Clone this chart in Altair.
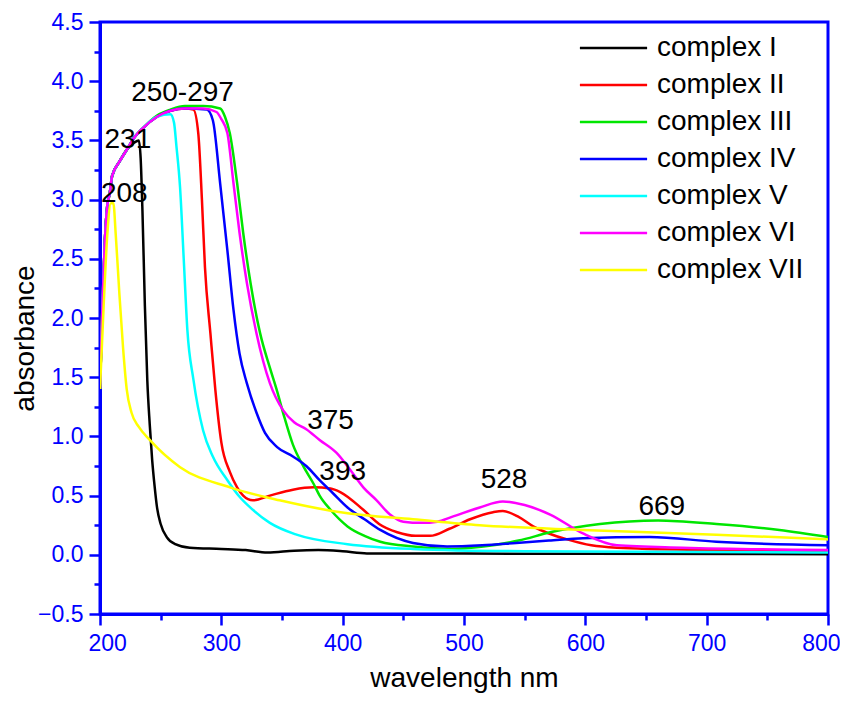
import altair as alt
import pandas as pd

names = ["complex I", "complex II", "complex III", "complex IV", "complex V", "complex VI", "complex VII"]
colors = ["#000000", "#ff0000", "#00e600", "#0000ff", "#00ffff", "#ff00ff", "#ffff00"]

c1_x = [200, 202, 204, 206, 208, 210, 216, 222, 228, 232, 233.5, 235, 237, 239, 241, 243, 245, 247, 250, 255, 262, 274, 300, 320, 338, 360, 380, 400, 420, 500, 600, 800]
c1_y = [1.4, 2.1, 2.65, 2.95, 3.05, 3.2, 3.32, 3.42, 3.48, 3.5, 3.35, 2.9, 2.1, 1.47, 1.1, 0.8, 0.58, 0.4, 0.26, 0.15, 0.09, 0.06, 0.05, 0.04, 0.02, 0.035, 0.04, 0.03, 0.012, 0.01, 0.008, 0.005]

c2_x = [200, 202, 204, 206, 208, 210, 216, 222, 228, 235, 247, 258, 270, 277, 281, 284, 286.5, 291, 295, 300, 307, 313, 318, 326, 340, 359, 376, 390, 398, 417, 430, 445, 460, 472, 488, 505, 524, 532, 545, 557, 570, 585, 605, 626, 700, 800]
c2_y = [1.4, 2.1, 2.65, 2.95, 3.05, 3.2, 3.32, 3.42, 3.52, 3.6, 3.7, 3.75, 3.77, 3.76, 3.56, 3.0, 2.43, 1.87, 1.4, 0.95, 0.7, 0.57, 0.5, 0.46, 0.5, 0.55, 0.57, 0.56, 0.53, 0.38, 0.26, 0.19, 0.16, 0.16, 0.22, 0.3, 0.36, 0.37, 0.32, 0.24, 0.18, 0.13, 0.08, 0.06, 0.04, 0.03]

c3_x = [200, 202, 204, 206, 208, 210, 216, 222, 228, 235, 247, 258, 270, 285, 299, 303, 307, 313, 318, 324, 332, 340, 346, 352, 359, 368, 376, 381, 390, 404, 418, 431, 458, 490, 516, 545, 571, 612, 660, 708, 760, 800]
c3_y = [1.4, 2.1, 2.65, 2.95, 3.05, 3.2, 3.32, 3.42, 3.52, 3.6, 3.71, 3.76, 3.79, 3.79, 3.77, 3.7, 3.56, 3.14, 2.72, 2.3, 1.87, 1.58, 1.38, 1.16, 0.93, 0.74, 0.6, 0.5, 0.38, 0.24, 0.16, 0.11, 0.07, 0.05, 0.07, 0.12, 0.19, 0.26, 0.29, 0.26, 0.21, 0.15]

c4_x = [200, 202, 204, 206, 208, 210, 216, 222, 228, 235, 247, 258, 270, 288, 293, 299, 305, 310, 315, 321, 329, 336, 346, 359, 370, 381, 392, 404, 418, 431, 458, 486, 515, 543, 570, 598, 653, 708, 800]
c4_y = [1.4, 2.1, 2.65, 2.95, 3.05, 3.2, 3.32, 3.42, 3.52, 3.6, 3.7, 3.75, 3.77, 3.76, 3.67, 3.14, 2.57, 2.07, 1.7, 1.45, 1.2, 1.03, 0.91, 0.83, 0.75, 0.63, 0.52, 0.4, 0.3, 0.21, 0.1, 0.07, 0.08, 0.1, 0.12, 0.14, 0.15, 0.11, 0.08]

c5_x = [200, 202, 204, 206, 208, 210, 216, 222, 228, 235, 247, 258, 261, 263, 266, 269, 272, 277, 285, 293, 305, 315, 326, 340, 362, 404, 458, 550, 800]
c5_y = [1.4, 2.1, 2.65, 2.95, 3.05, 3.2, 3.32, 3.42, 3.52, 3.6, 3.7, 3.72, 3.65, 3.45, 3.1, 2.5, 1.9, 1.48, 1.05, 0.83, 0.63, 0.49, 0.38, 0.27, 0.17, 0.09, 0.05, 0.03, 0.02]

c6_x = [200, 202, 204, 206, 208, 210, 216, 222, 228, 235, 247, 258, 270, 285, 296, 300, 305, 310, 315, 321, 329, 340, 351, 360, 370, 381, 395, 406, 417, 428, 439, 450, 465, 478, 490, 513, 532, 550, 571, 598, 626, 680, 800]
c6_y = [1.4, 2.1, 2.65, 2.95, 3.05, 3.2, 3.32, 3.42, 3.52, 3.6, 3.7, 3.75, 3.77, 3.77, 3.74, 3.68, 3.56, 3.14, 2.72, 2.3, 1.87, 1.45, 1.22, 1.12, 1.06, 0.97, 0.86, 0.72, 0.57, 0.46, 0.34, 0.28, 0.27, 0.28, 0.32, 0.4, 0.45, 0.42, 0.34, 0.18, 0.08, 0.06, 0.04]

c7_x = [200, 203, 206, 209, 211, 213, 216, 219, 222, 226, 232, 241, 266, 307, 348, 404, 458, 513, 598, 708, 800]
c7_y = [1.4, 2.1, 2.7, 2.97, 2.97, 2.7, 2.2, 1.75, 1.4, 1.2, 1.08, 0.97, 0.74, 0.57, 0.46, 0.35, 0.3, 0.25, 0.21, 0.17, 0.13]

ann_text = ["250-297", "231", "208", "375", "393", "528", "669"]
ann_x = [268, 223, 220, 390, 400, 533, 663]
ann_y = [3.9, 3.5, 3.05, 1.13, 0.7, 0.63, 0.4]

x_major = [200, 300, 400, 500, 600, 700, 800]
x_minor = [250, 350, 450, 550, 650, 750]
y_major = [-0.5, 0.0, 0.5, 1.0, 1.5, 2.0, 2.5, 3.0, 3.5, 4.0, 4.5]
y_minor = [-0.25, 0.25, 0.75, 1.25, 1.75, 2.25, 2.75, 3.25, 3.75, 4.25]

xs_all = [c1_x, c2_x, c3_x, c4_x, c5_x, c6_x, c7_x]
ys_all = [c1_y, c2_y, c3_y, c4_y, c5_y, c6_y, c7_y]
rows = []
for i, (nm, xs, ys) in enumerate(zip(names, xs_all, ys_all)):
    for x, y in zip(xs, ys):
        rows.append({"complex": nm, "wavelength": x, "absorbance": y, "k": i})
df = pd.DataFrame(rows)
ann = pd.DataFrame({"t": ann_text, "x": ann_x, "y": ann_y})

FONT = "Liberation Sans"
BLUE = "#0000ff"

xscale = alt.Scale(domain=[200, 800], nice=False, zero=False)
yscale = alt.Scale(domain=[-0.5, 4.5], nice=False, zero=False)

xaxis = alt.Axis(
    values=x_major, title="wavelength nm", grid=False, orient="bottom",
    labelOverlap=False, labelFlush=True, labelFlushOffset=12, format="d",
    tickSize=11, labelPadding=7, titlePadding=9,
)
yaxis = alt.Axis(
    values=y_major, title="absorbance", grid=False, orient="left",
    labelOverlap=False, labelFlush=False, format=".1f",
    tickSize=11, labelPadding=6, titleX=-61, titleY=316,
)

lines = alt.Chart(df).mark_line(strokeWidth=2.5, interpolate="monotone", clip=True).encode(
    x=alt.X("wavelength:Q", scale=xscale, axis=xaxis),
    y=alt.Y("absorbance:Q", scale=yscale, axis=yaxis),
    color=alt.Color(
        "complex:N",
        scale=alt.Scale(domain=names, range=colors),
        legend=alt.Legend(
            title=None, orient="none", legendX=491, legendY=3.5,
            symbolType="M-1.6,0L1.6,0", symbolSize=1764, symbolStrokeWidth=2.5,
            symbolFillColor="transparent",
            labelFontSize=28, labelFont=FONT, labelColor="#000000",
            rowPadding=0, padding=0, labelOffset=21,
        ),
    ),
    detail="k:N",
)

texts = alt.Chart(ann).mark_text(font=FONT, fontSize=28, color="#000000").encode(
    x=alt.X("x:Q", scale=xscale, axis=alt.Axis(
        values=x_minor, orient="bottom", labels=False, domain=False, title=None,
        grid=False, tickSize=6)),
    y=alt.Y("y:Q", scale=yscale, axis=alt.Axis(
        values=y_minor, orient="left", labels=False, domain=False, title=None,
        grid=False, tickSize=6)),
    text="t:N",
)

chart = alt.layer(lines, texts).resolve_axis(
    x="independent", y="independent"
).properties(
    width=728, height=592,
    autosize=alt.AutoSizeParams(type="none"),
    padding={"left": 92, "top": 14, "right": 12, "bottom": 79},
).configure_view(
    stroke=BLUE, strokeWidth=3
).configure_axis(
    domainColor=BLUE, domainWidth=3, tickColor=BLUE, tickWidth=2.5,
    labelColor=BLUE, labelFont=FONT, labelFontSize=23,
    titleColor="#000000", titleFont=FONT, titleFontSize=28, titleFontWeight="normal",
)

chart.save("out.html", embed_options={"renderer": "svg", "actions": False})
